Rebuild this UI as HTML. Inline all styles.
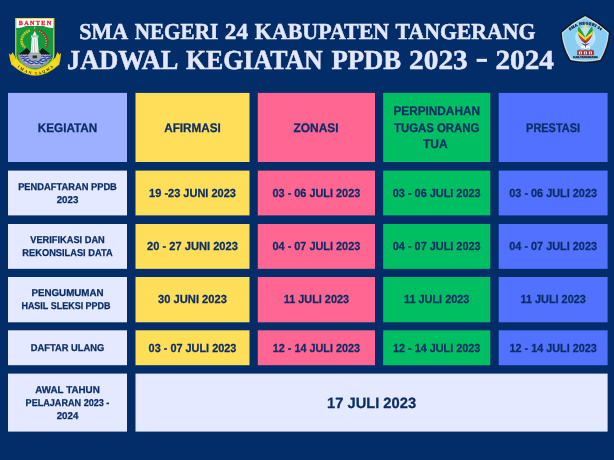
<!DOCTYPE html>
<html><head><meta charset="utf-8"><title>Jadwal PPDB</title>
<style>
html,body{margin:0;padding:0;background:#032d68;}
body{width:614px;height:460px;overflow:hidden;}
svg{display:block;will-change:transform;}
text.b{text-rendering:geometricPrecision;font-family:"Liberation Sans",sans-serif;font-weight:bold;fill:#0b2d66;stroke:#0b2d66;stroke-width:0.25px;text-anchor:middle;}
text.t{text-rendering:geometricPrecision;font-family:"Liberation Serif",serif;font-weight:bold;fill:#e3e7fb;stroke:#e3e7fb;stroke-width:0.5px;text-anchor:middle;}
</style></head><body>
<svg width="614" height="460" viewBox="0 0 614 460">
<rect width="614" height="460" fill="#032d68"/>
<rect x="8" y="92.9" width="119.00" height="69.10" fill="#9dafff"/>
<rect x="135.5" y="92.9" width="114.00" height="69.10" fill="#ffde59"/>
<rect x="257.8" y="92.9" width="117.20" height="69.10" fill="#ff6692"/>
<rect x="383.15" y="92.9" width="107.10" height="69.10" fill="#00bf63"/>
<rect x="498.7" y="92.9" width="108.90" height="69.10" fill="#5271ff"/>
<rect x="8" y="170.6" width="119.00" height="44.80" fill="#e5e9ff"/>
<rect x="135.5" y="170.6" width="114.00" height="44.80" fill="#ffde59"/>
<rect x="257.8" y="170.6" width="117.20" height="44.80" fill="#ff6692"/>
<rect x="383.15" y="170.6" width="107.10" height="44.80" fill="#00bf63"/>
<rect x="498.7" y="170.6" width="108.90" height="44.80" fill="#5271ff"/>
<rect x="8" y="224" width="119.00" height="44.85" fill="#e5e9ff"/>
<rect x="135.5" y="224" width="114.00" height="44.85" fill="#ffde59"/>
<rect x="257.8" y="224" width="117.20" height="44.85" fill="#ff6692"/>
<rect x="383.15" y="224" width="107.10" height="44.85" fill="#00bf63"/>
<rect x="498.7" y="224" width="108.90" height="44.85" fill="#5271ff"/>
<rect x="8" y="277.0" width="119.00" height="45.30" fill="#e5e9ff"/>
<rect x="135.5" y="277.0" width="114.00" height="45.30" fill="#ffde59"/>
<rect x="257.8" y="277.0" width="117.20" height="45.30" fill="#ff6692"/>
<rect x="383.15" y="277.0" width="107.10" height="45.30" fill="#00bf63"/>
<rect x="498.7" y="277.0" width="108.90" height="45.30" fill="#5271ff"/>
<rect x="8" y="330.3" width="119.00" height="34.90" fill="#e5e9ff"/>
<rect x="135.5" y="330.3" width="114.00" height="34.90" fill="#ffde59"/>
<rect x="257.8" y="330.3" width="117.20" height="34.90" fill="#ff6692"/>
<rect x="383.15" y="330.3" width="107.10" height="34.90" fill="#00bf63"/>
<rect x="498.7" y="330.3" width="108.90" height="34.90" fill="#5271ff"/>
<rect x="8" y="373.6" width="119.00" height="58.00" fill="#e5e9ff"/>
<rect x="135.5" y="373.6" width="472.10" height="58.00" fill="#e5e9ff"/>
<text class="b" x="67.50" y="131.55" font-size="12.4" textLength="59.60" lengthAdjust="spacingAndGlyphs">KEGIATAN</text>
<text class="b" x="192.50" y="131.55" font-size="12.4" textLength="56.60" lengthAdjust="spacingAndGlyphs">AFIRMASI</text>
<text class="b" x="316.00" y="131.55" font-size="12.4" textLength="45.20" lengthAdjust="spacingAndGlyphs">ZONASI</text>
<text class="b" x="436.70" y="115.30" font-size="12.4" textLength="86.50" lengthAdjust="spacingAndGlyphs">PERPINDAHAN</text>
<text class="b" x="436.70" y="131.55" font-size="12.4" textLength="85.50" lengthAdjust="spacingAndGlyphs">TUGAS ORANG</text>
<text class="b" x="435.25" y="148.00" font-size="12.4" textLength="24.50" lengthAdjust="spacingAndGlyphs">TUA</text>
<text class="b" x="553.05" y="131.55" font-size="12.4" textLength="53.90" lengthAdjust="spacingAndGlyphs">PRESTASI</text>
<text class="b" x="67.50" y="189.80" font-size="9.9" textLength="98.70" lengthAdjust="spacingAndGlyphs">PENDAFTARAN PPDB</text>
<text class="b" x="67.50" y="202.70" font-size="9.9" textLength="21.60" lengthAdjust="spacingAndGlyphs">2023</text>
<text class="b" x="67.50" y="243.20" font-size="9.9" textLength="74.50" lengthAdjust="spacingAndGlyphs">VERIFIKASI DAN</text>
<text class="b" x="67.50" y="256.10" font-size="9.9" textLength="90.30" lengthAdjust="spacingAndGlyphs">REKONSILASI DATA</text>
<text class="b" x="67.50" y="296.20" font-size="9.9" textLength="72.20" lengthAdjust="spacingAndGlyphs">PENGUMUMAN</text>
<text class="b" x="66.00" y="309.40" font-size="9.9" textLength="89.20" lengthAdjust="spacingAndGlyphs">HASIL SLEKSI PPDB</text>
<text class="b" x="67.50" y="351.30" font-size="9.9" textLength="73.50" lengthAdjust="spacingAndGlyphs">DAFTAR ULANG</text>
<text class="b" x="67.50" y="393.20" font-size="9.9" textLength="64.50" lengthAdjust="spacingAndGlyphs">AWAL TAHUN</text>
<text class="b" x="67.50" y="406.10" font-size="9.9" textLength="83.80" lengthAdjust="spacingAndGlyphs">PELAJARAN 2023 -</text>
<text class="b" x="67.50" y="419.00" font-size="9.9" textLength="21.60" lengthAdjust="spacingAndGlyphs">2024</text>
<text class="b" x="192.50" y="196.65" font-size="11.7" textLength="86.80" lengthAdjust="spacingAndGlyphs">19 -23 JUNI 2023</text>
<text class="b" x="192.50" y="250.05" font-size="11.7" textLength="90.80" lengthAdjust="spacingAndGlyphs">20 - 27 JUNI 2023</text>
<text class="b" x="192.50" y="303.30" font-size="11.7" textLength="68.80" lengthAdjust="spacingAndGlyphs">30 JUNI 2023</text>
<text class="b" x="192.50" y="352.10" font-size="11.7" textLength="87.80" lengthAdjust="spacingAndGlyphs">03 - 07 JULI 2023</text>
<text class="b" x="316.40" y="196.65" font-size="11.7" textLength="87.80" lengthAdjust="spacingAndGlyphs">03 - 06 JULI 2023</text>
<text class="b" x="316.40" y="250.05" font-size="11.7" textLength="87.80" lengthAdjust="spacingAndGlyphs">04 - 07 JULI 2023</text>
<text class="b" x="316.40" y="303.30" font-size="11.7" textLength="65.30" lengthAdjust="spacingAndGlyphs">11 JULI 2023</text>
<text class="b" x="316.40" y="352.10" font-size="11.7" textLength="87.30" lengthAdjust="spacingAndGlyphs">12 - 14 JULI 2023</text>
<text class="b" x="436.70" y="196.65" font-size="11.7" textLength="87.80" lengthAdjust="spacingAndGlyphs">03 - 06 JULI 2023</text>
<text class="b" x="436.70" y="250.05" font-size="11.7" textLength="87.80" lengthAdjust="spacingAndGlyphs">04 - 07 JULI 2023</text>
<text class="b" x="436.70" y="303.30" font-size="11.7" textLength="65.30" lengthAdjust="spacingAndGlyphs">11 JULI 2023</text>
<text class="b" x="436.70" y="352.10" font-size="11.7" textLength="87.30" lengthAdjust="spacingAndGlyphs">12 - 14 JULI 2023</text>
<text class="b" x="553.15" y="196.65" font-size="11.7" textLength="87.80" lengthAdjust="spacingAndGlyphs">03 - 06 JULI 2023</text>
<text class="b" x="553.15" y="250.05" font-size="11.7" textLength="87.80" lengthAdjust="spacingAndGlyphs">04 - 07 JULI 2023</text>
<text class="b" x="553.15" y="303.30" font-size="11.7" textLength="65.30" lengthAdjust="spacingAndGlyphs">11 JULI 2023</text>
<text class="b" x="553.15" y="352.10" font-size="11.7" textLength="87.30" lengthAdjust="spacingAndGlyphs">12 - 14 JULI 2023</text>
<text class="b" x="371.55" y="408.10" font-size="14.9" textLength="89.00" lengthAdjust="spacingAndGlyphs">17 JULI 2023</text>
<text class="t" x="103.80" y="38.60" font-size="22.8" textLength="48.90" lengthAdjust="spacingAndGlyphs">SMA</text>
<text class="t" x="176.47" y="38.60" font-size="22.8" textLength="83.55" lengthAdjust="spacingAndGlyphs">NEGERI</text>
<text class="t" x="236.43" y="38.60" font-size="22.8" textLength="23.15" lengthAdjust="spacingAndGlyphs">24</text>
<text class="t" x="322.02" y="38.60" font-size="22.8" textLength="134.35" lengthAdjust="spacingAndGlyphs">KABUPATEN</text>
<text class="t" x="465.50" y="38.60" font-size="22.8" textLength="139.80" lengthAdjust="spacingAndGlyphs">TANGERANG</text>
<text class="t" x="122.65" y="68.70" font-size="27.5" textLength="111.10" lengthAdjust="spacingAndGlyphs">JADWAL</text>
<text class="t" x="254.35" y="68.70" font-size="27.5" textLength="136.90" lengthAdjust="spacingAndGlyphs">KEGIATAN</text>
<text class="t" x="366.32" y="68.70" font-size="27.5" textLength="69.75" lengthAdjust="spacingAndGlyphs">PPDB</text>
<text class="t" x="438.45" y="68.70" font-size="27.5" textLength="58.70" lengthAdjust="spacingAndGlyphs">2023</text>
<rect x="476.6" y="58.8" width="10.4" height="3.1" fill="#e3e7fb"/>
<text class="t" x="524.70" y="68.70" font-size="27.5" textLength="58.40" lengthAdjust="spacingAndGlyphs">2024</text>
<g id="banten" text-rendering="geometricPrecision">
 <path d="M15.2,18 H54.4 V54.5 C54.3,63.5 45,68 34.75,71.5 C24.5,68 15.2,63.5 15.2,54.5 Z" fill="#f3df1c"/>
 <clipPath id="sh"><path d="M16.3,19 H53.3 V54.5 C53.2,62.8 44.4,67 34.75,70.3 C25.1,67 16.3,62.8 16.3,54.5 Z"/></clipPath>
 <g clip-path="url(#sh)">
  <rect x="15" y="18" width="40" height="54" fill="#13983b"/>
  <rect x="15" y="18" width="40" height="10.2" fill="#ffffff"/>
  <path d="M15,28 L17,27.9 Q23.5,27.7 25.5,26 H44 Q46,27.7 52.5,27.9 L55,28 V30 H15 Z" fill="#13983b"/>
  <path d="M29.8,30.4 Q21.8,33.6 21.5,41 Q21.6,45 25.2,47.5" fill="none" stroke="#c9c922" stroke-width="2.7" stroke-dasharray="1.7 0.6"/>
  <path d="M38.5,30 Q46.3,33.6 47.2,40.5 Q47.4,44.4 45.4,47.2" fill="none" stroke="#bf2035" stroke-width="2.7" stroke-dasharray="1.5 0.9"/>
  <path d="M38.7,30.8 Q45.4,34.2 46.2,40.5 Q46.3,44 44.9,46.4" fill="none" stroke="#f3eced" stroke-width="1" stroke-dasharray="0.9 1.5" stroke-dashoffset="-0.6"/>
  <path d="M17.2,55.4 L26.9,48 L32,53.4 L37.6,53.4 L42.5,48 L52,55.4 Z" fill="#15181c"/>
  <path d="M18.4,54.8 H50.8 C50.8,62.8 43,68 34.6,68 C26.2,68 18.4,62.8 18.4,54.8 Z" fill="#9299a3" stroke="#9299a3" stroke-width="1.1" stroke-dasharray="1.4 1"/>
  <path d="M21,55.4 H48.4 C48.1,61 42,65.2 34.6,65.2 C27.2,65.2 21.3,61 21,55.4 Z" fill="#bcc5da"/>
  <g fill="none" stroke="#2f479e" stroke-width="1.25">
   <path d="M20.6,56.6 q1.3,-1 2.6,0 t2.6,0 t2.6,0 t2.6,0 t2.6,0 t2.6,0 t2.6,0 t2.6,0 t2.6,0 t2.6,0 t2.6,0 t2.6,0"/>
   <path d="M21.5,58.8 q1.3,-1 2.6,0 t2.6,0 t2.6,0 t2.6,0 t2.6,0 t2.6,0 t2.6,0 t2.6,0 t2.6,0 t2.6,0 t2.6,0"/>
   <path d="M23.5,61 q1.3,-1 2.6,0 t2.6,0 t2.6,0 t2.6,0 t2.6,0 t2.6,0 t2.6,0 t2.6,0 t2.6,0"/>
   <path d="M27.5,63.2 q1.3,-1 2.6,0 t2.6,0 t2.6,0 t2.6,0 t2.6,0 t2.6,0"/>
  </g>
  <path d="M27.5,57 L30.5,54.6 H39 L42,57 L38.5,60.4 H31 Z" fill="#a3a9b1"/>
  <path d="M32.6,58.2 h4.4 v-2.6 h-4.4 Z" fill="#2b2f36"/>
 </g>
 <g>
  <path d="M34.7,26.6 l0.7,1.2 l-0.7,1.2 l-0.7,-1.2 Z" fill="#e6d83a"/>
  <path d="M34.3,29.8 h0.8 v1.6 h-0.8 Z" fill="#c8303a"/>
  <path d="M34.7,31 L36.9,35.6 H32.5 Z" fill="#f2f2f2"/>
  <path d="M31,35.5 H38.4 V37.6 H31 Z" fill="#e4e4e6"/>
  <path d="M31.5,36.4 H37.9 V36.9 H31.5 Z" fill="#9aa0a6"/>
  <path d="M31.8,37.6 H37.6 L38.7,52.4 H30.7 Z" fill="#ffffff"/>
  <path d="M32.7,38.4 H33.3 L32.9,52 H32 Z" fill="#c9cdd1"/>
  <path d="M34.3,38.4 H35.1 L35.3,52 H34.1 Z" fill="#b4b9be"/>
  <path d="M36.2,38.4 H36.8 L37.6,52 H36.7 Z" fill="#c9cdd1"/>
  <path d="M29.8,52.2 H39.7 V53.6 H29.8 Z" fill="#d6d8db"/>
  <path d="M28.6,53.6 H40.9 V55 H28.6 Z" fill="#b3b8bf"/>
 </g>
 <text x="35" y="25.1" font-family="Liberation Serif" font-weight="bold" font-size="6.2" fill="#e0182d" text-anchor="middle" textLength="32.6" lengthAdjust="spacing" stroke="#e0182d" stroke-width="0.3">BANTEN</text>
 <path d="M8.9,53.2 L10.9,55 L12.8,52.2 L15.2,57 L16.2,60.6 L11.6,65 L10.2,60.6 Z" fill="#ecd118"/>
 <path d="M61.1,52.8 L59.4,54.8 L57.6,52 L55.4,57 L54.4,60.6 L59,65 L60.2,60.6 Z" fill="#ecd118"/>
 <path d="M15.8,58 Q35.3,81 55,58 L59.4,64.3 Q35.3,86.7 11.4,64.3 Z" fill="#f4dc1e"/>
 <path d="M15.8,58 Q35.3,81 55,58" fill="none" stroke="#d0b512" stroke-width="0.5"/>
 <path d="M11.4,64.3 Q35.3,86.7 59.4,64.3" fill="none" stroke="#b99d0c" stroke-width="0.6"/>
 <path id="ribt" d="M13,62.8 Q35.3,86.4 57.8,62.8" fill="none"/>
 <text font-family="Liberation Serif" font-weight="bold" font-size="3.9" fill="#2a2408"><textPath href="#ribt" startOffset="50%" text-anchor="middle" textLength="40" lengthAdjust="spacing">IMAN TAQWA</textPath></text>
</g>
<g id="sma" text-rendering="geometricPrecision">
 <defs><path id="pent" d="M585.2,14.7 Q599,21.6 610.1,32.3 Q609.2,47 601.2,60.9 Q585.4,64.6 569.7,61 Q561.2,47 560.5,32.2 Q571.4,21.6 585.2,14.7 Z"/>
 <clipPath id="wl"><path d="M578.4,26.8 C576.8,32.4 578.4,38.6 585.3,43.4 L585.3,37 C584.2,35.2 582.6,31.8 579.2,27 Z"/></clipPath>
 <clipPath id="wr"><path d="M592.2,26.8 C593.8,32.4 592.2,38.6 585.3,43.4 L585.3,37 C586.4,35.2 588,31.8 591.4,27 Z"/></clipPath>
 </defs>
 <use href="#pent" fill="#14161c" stroke="#14161c" stroke-width="0.3" stroke-linejoin="round"/>
 <use href="#pent" fill="#f3f6fa" stroke="#f3f6fa" stroke-width="0.6" stroke-linejoin="round" transform="translate(585.3,40.5) scale(0.935) translate(-585.3,-40.5)"/>
 <use href="#pent" fill="#89cdf3" stroke="#89cdf3" stroke-width="0.6" stroke-linejoin="round" transform="translate(585.3,40.5) scale(0.895) translate(-585.3,-40.5)"/>
 <circle cx="585.4" cy="37.6" r="10.3" fill="#e4f1f8" opacity="0.6"/>
 <g fill="none" stroke="#a9d6ee" stroke-width="0.5" opacity="0.8">
  <ellipse cx="585.4" cy="37.6" rx="7" ry="10.3"/><ellipse cx="585.4" cy="37.6" rx="3.6" ry="10.3"/>
 </g>
 <path id="arc24" d="M568.6,31.6 Q585.4,17.2 602.2,31.6" fill="none"/>
 <text font-family="Liberation Serif" font-weight="bold" font-size="3.7" fill="#1a212c" stroke="#1a212c" stroke-width="0.35"><textPath href="#arc24" startOffset="50%" text-anchor="middle" textLength="34" lengthAdjust="spacing">SMA NEGERI 24</textPath></text>
 <path d="M585.4,24.5 l0.6,1.55 h1.65 l-1.35,1 l0.52,1.6 l-1.42,-1 l-1.42,1 l0.52,-1.6 l-1.35,-1 h1.65 Z" fill="#f0e23c" stroke="#f6ee8a" stroke-width="0.3"/>
 <g clip-path="url(#wl)">
  <rect x="576" y="26" width="10" height="18" fill="#2a9a3c"/>
  <path d="M576,29.4 L585.4,37.8 V40.4 L576,32.6 Z" fill="#e9df2e"/>
  <path d="M576,32.6 L585.4,40.4 V44 H576 Z" fill="#dc3a2a"/>
  <path d="M576,35.2 L585.4,42.4 V44 H576 Z" fill="#c8232c"/>
 </g>
 <g clip-path="url(#wr)">
  <rect x="584.6" y="26" width="10" height="18" fill="#2a9a3c"/>
  <path d="M594.6,29.4 L585.2,37.8 V40.4 L594.6,32.6 Z" fill="#e9df2e"/>
  <path d="M594.6,32.6 L585.2,40.4 V44 H594.6 Z" fill="#dc3a2a"/>
  <path d="M594.6,35.2 L585.2,42.4 V44 H594.6 Z" fill="#c8232c"/>
 </g>
 <path d="M585,33 h0.7 v8 h-0.7 Z" fill="#bfe0cf"/>
 <path d="M585.35,40 l1.3,1.6 l-1.3,1.6 l-1.3,-1.6 Z" fill="#1f6e3a"/>
 <path d="M581,43 L585.35,44.6 L589.8,43 L585.35,46.2 Z" fill="#3b2f7a"/>
 <path d="M580.6,48.6 Q580.2,44.4 585.35,45.8 Q590.6,44.4 590.2,48.6 Q587.4,47.7 585.35,49 Q583.4,47.7 580.6,48.6 Z" fill="#fbfbfb"/>
 <path d="M585,44.6 h0.8 v2.8 h-0.8 Z" fill="#c8252c"/>
 <rect x="577.2" y="50.4" width="16.6" height="4.8" fill="#a92a2a"/>
 <path d="M577.2,50.4 l2.8,-1 l2.8,1 l2.8,-1 l2.8,1 l2.8,-1 l2.6,1 Z" fill="#a92a2a"/>
 <rect x="578.8" y="51.5" width="3.2" height="2.8" fill="#f4e4e4"/>
 <rect x="583.8" y="51.5" width="3.2" height="2.8" fill="#f4e4e4"/>
 <rect x="588.8" y="51.5" width="3.2" height="2.8" fill="#f4e4e4"/>
 <rect x="580" y="52.2" width="0.8" height="2.1" fill="#a92a2a"/>
 <rect x="585" y="52.2" width="0.8" height="2.1" fill="#a92a2a"/>
 <rect x="590" y="52.2" width="0.8" height="2.1" fill="#a92a2a"/>
 <text x="585.5" y="58" font-family="Liberation Sans" font-weight="bold" font-size="2.6" fill="#1c2430" text-anchor="middle" textLength="24.6" lengthAdjust="spacingAndGlyphs" stroke="#1c2430" stroke-width="0.25">KAB.TANGERANG</text>
</g>

</svg>
</body></html>
